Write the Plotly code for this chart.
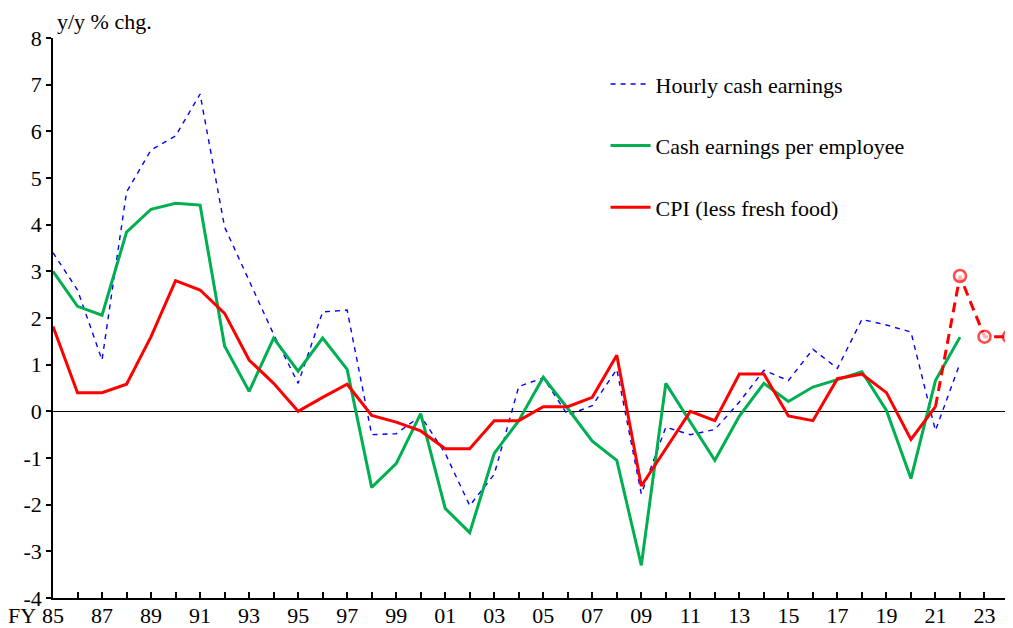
import plotly.graph_objects as go

years = list(range(1985, 2023))
hourly = [3.4, 2.6, 1.1, 4.7, 5.6, 5.9, 6.8, 3.95, 2.8, 1.65,
          0.6, 2.13, 2.17, -0.5, -0.48, -0.1, -0.9, -2.02, -1.35, 0.53,
          0.72, -0.08, 0.12, 0.9, -1.77, -0.34, -0.5, -0.39, 0.2, 0.88,
          0.66, 1.33, 0.92, 1.97, 1.85, 1.7, -0.41, 1.03]
per_employee = [3.0, 2.25, 2.06, 3.84, 4.33, 4.46, 4.42, 1.4, 0.43, 1.57,
                0.86, 1.57, 0.9, -1.63, -1.12, -0.05, -2.08, -2.6, -0.9, -0.2,
                0.73, 0.06, -0.64, -1.05, -3.3, 0.6, -0.23, -1.05, -0.1, 0.6,
                0.21, 0.52, 0.68, 0.85, 0.02, -1.44, 0.66, 1.59]
cpi_years = list(range(1985, 2022))
cpi = [1.82, 0.4, 0.4, 0.58, 1.6, 2.8, 2.6, 2.1, 1.1, 0.6,
       0.0, 0.3, 0.58, -0.09, -0.23, -0.42, -0.8, -0.8, -0.2, -0.2,
       0.1, 0.1, 0.3, 1.2, -1.6, -0.8, 0.0, -0.2, 0.8, 0.8,
       -0.1, -0.2, 0.7, 0.8, 0.4, -0.6, 0.1]
fc_years = [2021, 2022, 2023, 2024]
cpi_fc = [0.1, 2.9, 1.6, 1.6]

tick_years = list(range(1985, 2025))
tick_text = [(f"{y % 100:02d}" if (y - 1985) % 2 == 0 else "") for y in tick_years]
y_ticks = list(range(-4, 9))
y_text = [str(v) for v in y_ticks]

FONT = "Liberation Serif"

fig = go.Figure()
fig.add_trace(go.Scatter(x=years, y=hourly, mode="lines", name="Hourly cash earnings",
                         line=dict(color="#0000FF", width=1.4, dash="5px,5px"),
                         legendgroup="a"))
fig.add_trace(go.Scatter(x=years, y=per_employee, mode="lines", name="Cash earnings per employee",
                         line=dict(color="#00B050", width=3), legendgroup="b"))
fig.add_trace(go.Scatter(x=cpi_years, y=cpi, mode="lines", name="CPI (less fresh food)",
                         line=dict(color="#FF0000", width=3), legendgroup="c"))
fig.add_trace(go.Scatter(x=fc_years, y=cpi_fc, mode="lines+markers", showlegend=False,
                         line=dict(color="#FF0000", width=3, dash="10px,6px"),
                         marker=dict(symbol="circle",
                                     size=[0 if y <= 2021 else 12 for y in fc_years],
                                     color="white", line=dict(width=2.5, color="#FF0000")),
                         cliponaxis=False))

fig.update_layout(
    width=1005, height=620,
    margin=dict(l=45, r=4, t=30, b=30, autoexpand=False),
    paper_bgcolor="white", plot_bgcolor="white",
    font=dict(family=FONT, size=22, color="black"),
    showlegend=True,
    legend=dict(x=0.578, y=0.955, xanchor="left", yanchor="top",
                bgcolor="rgba(0,0,0,0)", tracegroupgap=30,
                font=dict(family=FONT, size=22, color="black"), itemwidth=40),
    xaxis=dict(range=[1985, 2024], tickvals=tick_years, ticktext=tick_text,
               ticks="inside", ticklen=6, tickcolor="black", tickwidth=1.5,
               showline=True, linecolor="black", linewidth=1.5,
               showgrid=False, zeroline=False, tickangle=0, automargin=False,
               ticklabelstandoff=-3,
               tickfont=dict(family=FONT, size=22)),
    yaxis=dict(range=[-4, 8], tickvals=y_ticks, ticktext=y_text,
               ticks="outside", ticklen=5, tickcolor="black",
               tickwidth=1.5, showline=True, linecolor="black", linewidth=1.5,
               showgrid=False, zeroline=True, zerolinecolor="black", zerolinewidth=1.3,
               automargin=False,
               tickfont=dict(family=FONT, size=22)),
    annotations=[
        dict(text="y/y % chg.", xref="paper", yref="paper", x=0.002, y=1.03,
             xanchor="left", yanchor="middle", showarrow=False,
             font=dict(family=FONT, size=22)),
        dict(text="FY", xref="paper", yref="paper", x=-0.0155, y=-0.006,
             xanchor="right", yanchor="top", showarrow=False,
             font=dict(family=FONT, size=22)),
    ],
)

fig.write_html("out.html")
